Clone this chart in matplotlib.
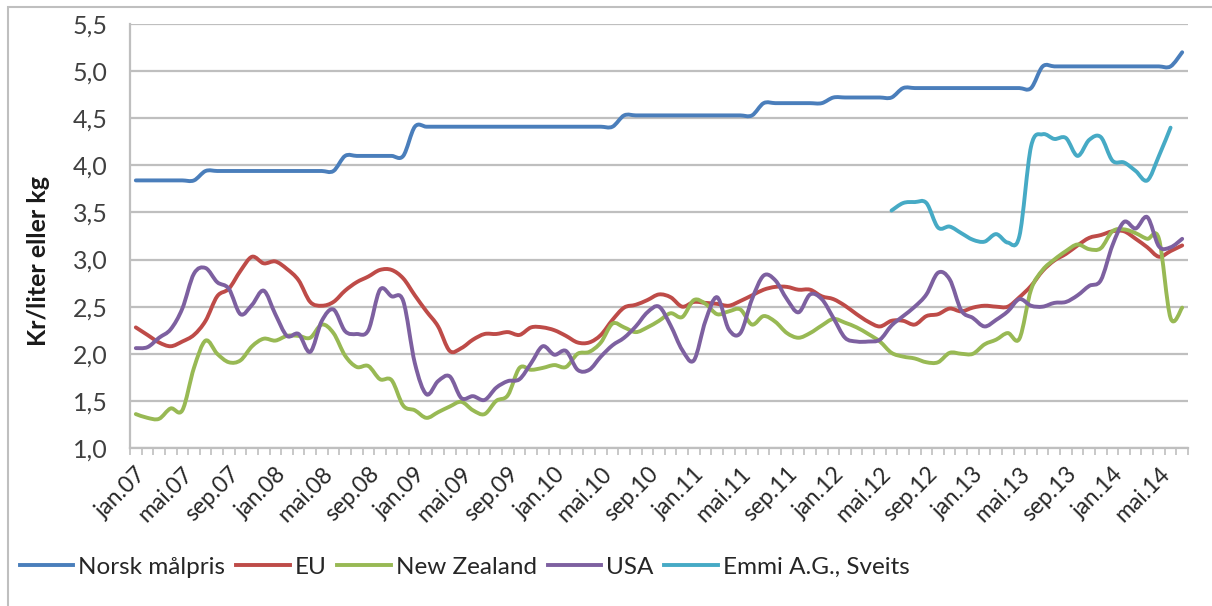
import numpy as np
import matplotlib
matplotlib.use('Agg')
import matplotlib.pyplot as plt
from matplotlib.patches import Rectangle, PathPatch
from matplotlib.path import Path
from matplotlib.lines import Line2D

plt.rcParams['font.family'] = ['Lato', 'DejaVu Sans']

# maaneder jan.07 - jul.14
mnd = ['jan', 'feb', 'mar', 'apr', 'mai', 'jun', 'jul', 'aug', 'sep', 'okt', 'nov', 'des']
labels = [f'{mnd[i % 12]}.{7 + i // 12:02d}' for i in range(91)]

norsk = ([3.84] * 6 + [3.94] * 12 + [4.10] * 6 + [4.41] * 18 + [4.53] * 12
         + [4.66] * 6 + [4.72] * 6 + [4.82] * 12 + [5.05] * 12 + [5.20])

eu = [2.28, 2.20, 2.12, 2.08, 2.13, 2.20, 2.35, 2.61, 2.69, 2.88,
      3.03, 2.96, 2.98, 2.90, 2.78, 2.55, 2.51, 2.55, 2.67, 2.76,
      2.82, 2.89, 2.89, 2.80, 2.62, 2.45, 2.29, 2.03, 2.06, 2.15,
      2.21, 2.21, 2.23, 2.20, 2.28, 2.28, 2.25, 2.19, 2.12, 2.12,
      2.20, 2.36, 2.49, 2.52, 2.57, 2.63, 2.60, 2.50, 2.55, 2.54,
      2.53, 2.51, 2.56, 2.62, 2.68, 2.71, 2.71, 2.68, 2.68, 2.61,
      2.58, 2.51, 2.42, 2.34, 2.29, 2.35, 2.35, 2.31, 2.40, 2.42,
      2.48, 2.45, 2.49, 2.51, 2.50, 2.50, 2.60, 2.72, 2.88, 2.99,
      3.06, 3.15, 3.23, 3.26, 3.30, 3.30, 3.22, 3.13, 3.03, 3.09,
      3.15]

nz = [1.36, 1.32, 1.31, 1.42, 1.40, 1.85, 2.14, 2.00, 1.91, 1.93,
      2.08, 2.16, 2.14, 2.19, 2.19, 2.17, 2.31, 2.22, 1.98, 1.86,
      1.87, 1.73, 1.72, 1.45, 1.40, 1.32, 1.38, 1.44, 1.49, 1.40,
      1.36, 1.50, 1.56, 1.85, 1.83, 1.85, 1.88, 1.86, 2.00, 2.02,
      2.12, 2.32, 2.28, 2.23, 2.28, 2.35, 2.43, 2.39, 2.57, 2.53,
      2.42, 2.45, 2.47, 2.31, 2.40, 2.34, 2.22, 2.17, 2.22, 2.30,
      2.37, 2.33, 2.28, 2.21, 2.13, 2.01, 1.97, 1.95, 1.91, 1.91,
      2.01, 2.00, 2.00, 2.10, 2.15, 2.22, 2.16, 2.68, 2.89, 3.00,
      3.09, 3.16, 3.11, 3.12, 3.30, 3.32, 3.28, 3.22, 3.22, 2.38,
      2.49]

usa = [2.06, 2.07, 2.17, 2.26, 2.48, 2.85, 2.91, 2.76, 2.69, 2.42,
       2.52, 2.67, 2.42, 2.19, 2.21, 2.02, 2.35, 2.47, 2.24, 2.21,
       2.25, 2.68, 2.61, 2.56, 1.90, 1.57, 1.71, 1.76, 1.53, 1.55,
       1.51, 1.64, 1.71, 1.73, 1.90, 2.08, 1.99, 2.03, 1.83, 1.83,
       1.97, 2.09, 2.17, 2.29, 2.44, 2.50, 2.30, 2.04, 1.93, 2.35,
       2.60, 2.26, 2.22, 2.58, 2.83, 2.78, 2.58, 2.44, 2.63, 2.58,
       2.38, 2.17, 2.13, 2.13, 2.15, 2.30, 2.40, 2.50, 2.63, 2.86,
       2.79, 2.46, 2.38, 2.29, 2.36, 2.45, 2.58, 2.51, 2.50, 2.54,
       2.55, 2.62, 2.72, 2.78, 3.15, 3.40, 3.33, 3.45, 3.14, 3.13,
       3.22]

emmi = [np.nan] * 65 + [3.52, 3.60, 3.61, 3.60, 3.34, 3.35, 3.28, 3.21, 3.19, 3.27,
                        3.18, 3.25, 4.20, 4.33, 4.28, 4.29, 4.10, 4.27, 4.30, 4.05,
                        4.03, 3.94, 3.84, 4.10, 4.40, np.nan]

serier = [('Norsk målpris', norsk, '#4A7EBB'),
          ('EU', eu, '#BE4B48'),
          ('New Zealand', nz, '#98B954'),
          ('USA', usa, '#7D60A0'),
          ('Emmi A.G., Sveits', emmi, '#46AAC5')]


def glatt_linje(xs, ys):
    # utjevnet linje som i Excel (kubiske bezier-kurver gjennom punktene)
    p = np.column_stack([xs, ys])
    verts = [p[0]]
    codes = [Path.MOVETO]
    n = len(p)
    for i in range(n - 1):
        p0 = p[i - 1] if i > 0 else p[i]
        p3 = p[i + 2] if i + 2 < n else p[i + 1]
        c1 = p[i] + (p[i + 1] - p0) / 6
        c2 = p[i + 1] - (p3 - p[i]) / 6
        verts += [c1, c2, p[i + 1]]
        codes += [Path.CURVE4] * 3
    return Path(verts, codes)


fig = plt.figure(figsize=(12.12, 6.06), dpi=100)
ax = fig.add_axes([130 / 1212, 1 - 448 / 606, 1058 / 1212, 424 / 606])

x = np.arange(len(labels))
lw = 2.8
handles = []
for navn, y, farge in serier:
    y = np.array(y, dtype=float)
    ok = ~np.isnan(y)
    # del opp i sammenhengende biter
    start = None
    for i in range(len(y) + 1):
        if i < len(y) and ok[i]:
            if start is None:
                start = i
        elif start is not None:
            ax.add_patch(PathPatch(glatt_linje(x[start:i], y[start:i]), facecolor='none',
                                   edgecolor=farge, lw=lw, joinstyle='round', capstyle='round'))
            start = None
    handles.append(Line2D([], [], color=farge, lw=lw, label=navn))

ax.set_xlim(-0.5, len(labels) - 0.5)
ax.set_ylim(1.0, 5.5)
yt = np.arange(1.0, 5.51, 0.5)
ax.set_yticks(yt)
ax.set_yticklabels([f'{v:.1f}'.replace('.', ',') for v in yt], fontsize=18, color='#404040')
ax.grid(axis='y', color='#BFBFBF', lw=1.6)
ax.set_axisbelow(True)

ax.set_xticks(x[::4])
ax.set_xticklabels(labels[::4], rotation=45, ha='right', rotation_mode='anchor', fontsize=16.5,
                   color='#262626')
ax.set_xticks(np.arange(-0.5, len(labels)), minor=True)
ax.tick_params(axis='x', which='major', length=0, pad=11)
ax.tick_params(axis='x', which='minor', length=5, color='#BFBFBF', width=1.2)
ax.tick_params(axis='y', length=0, pad=16)

for s in ['top', 'right']:
    ax.spines[s].set_visible(False)
for s in ['left', 'bottom']:
    ax.spines[s].set_color('#BFBFBF')
    ax.spines[s].set_linewidth(1.6)

ax.set_ylabel('Kr/liter eller kg', fontsize=18, fontweight='bold', color='#1a1a1a')
ax.yaxis.set_label_coords(-80 / 1058, 0.44)

fig.legend(handles=handles, loc='center left', bbox_to_anchor=(20 / 1212, 1 - 567 / 606), ncol=5,
           frameon=False, fontsize=17.5, borderpad=0, borderaxespad=0, handlelength=2.2,
           handletextpad=0.2, columnspacing=0.45, labelcolor='#262626')

fig.patches.append(Rectangle((8 / 1212, -0.01), 1.0, 1 - 7 / 606 + 0.01, transform=fig.transFigure,
                             fill=False, edgecolor='#BFBFBF', lw=1.5))

fig.savefig('out.png', dpi=100)
